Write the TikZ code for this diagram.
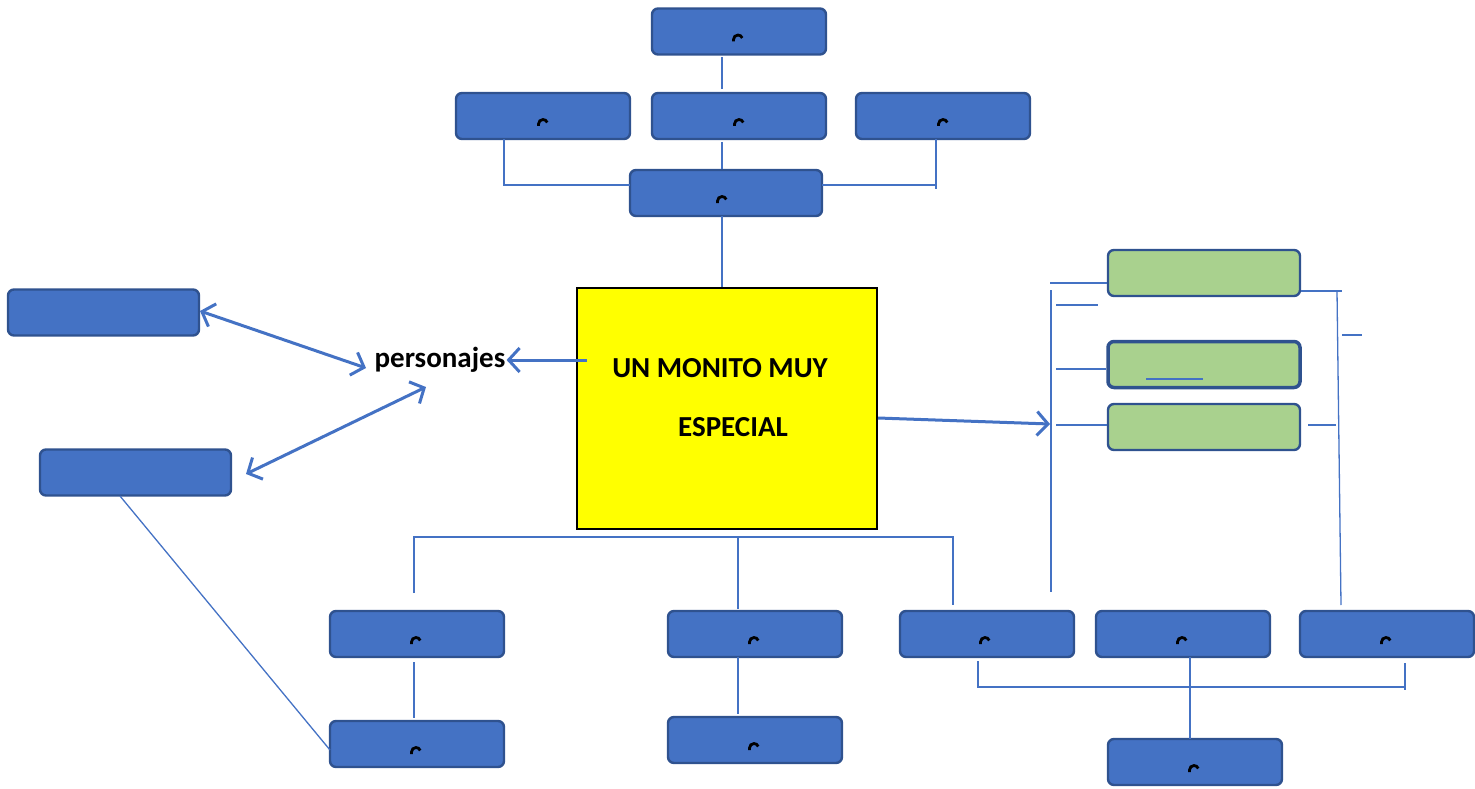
\documentclass[tikz,border=0pt]{standalone}
\usepackage{fontspec}
\setmainfont{Carlito}
\usetikzlibrary{arrows.meta}
\definecolor{bfill}{HTML}{4472C4}
\definecolor{bdraw}{HTML}{2F528F}
\definecolor{gfill}{HTML}{A9D18E}
\definecolor{lcol}{HTML}{4472C4}
\definecolor{yel}{HTML}{FFFF00}
\tikzset{
  bbox/.style={draw=bdraw,fill=bfill,line width=2.4pt,rounded corners=6pt,minimum width=174pt,minimum height=46pt,inner sep=0pt},
  gbox/.style={draw=bdraw,fill=gfill,line width=2.4pt,rounded corners=6pt,minimum width=192pt,minimum height=46pt,inner sep=0pt},
  conn/.style={draw=lcol,line width=1.3pt},
  arr/.style={draw=lcol,line width=3pt,-{Straight Barb[length=11pt,width=24pt,line width=3pt]}},
  darr/.style={draw=lcol,line width=3pt,{Straight Barb[length=11pt,width=24pt,line width=3pt]}-{Straight Barb[length=11pt,width=24pt,line width=3pt]}},
  gl/.pic={\draw[line width=2.8pt,black] (-4.5,10) -- (-4.5,8) arc(180:340:4.5);},
  big/.style={font=\bfseries\fontsize{29}{34}\selectfont,inner sep=0pt}
}
\begin{document}
\begin{tikzpicture}[x=1pt,y=-1pt]
\useasboundingbox (0,0) rectangle (1475,789);
% top
\node[bbox] (T0) at (739,31.5) {};
\node[bbox] (T1) at (543,116) {};
\node[bbox] (T2) at (739,116) {};
\node[bbox] (T3) at (943,116) {};
\node[bbox,minimum width=192pt] (T4) at (726,193) {};
% center
\node[draw=black,fill=yel,line width=2.5pt,minimum width=300pt,minimum height=241pt,inner sep=0pt] (C) at (727,408.5) {};
\node[big] (t1) at (720,368) {UN MONITO MUY};
\node[big] (t2) at (733,427) {ESPECIAL};
\node[big] (P) at (440,360) {personajes};
% left
\node[bbox,minimum width=191pt] (L1) at (103.5,312.5) {};
\node[bbox,minimum width=191pt] (L2) at (135.5,472.5) {};
% bottom
\node[bbox] (B1) at (417,634) {};
\node[bbox] (B2) at (417,744) {};
\node[bbox] (B3) at (755,634) {};
\node[bbox] (B4) at (755,740) {};
\node[bbox] (B5) at (987,634) {};
\node[bbox] (B6) at (1183,634) {};
\node[bbox] (B7) at (1387,634) {};
\node[bbox] (B8) at (1195,762) {};
% green
\node[gbox] (G1) at (1204,273) {};
\node[gbox,line width=3.5pt] (G2) at (1204,364.5) {};
\node[gbox] (G3) at (1204,427) {};
% glyphs
\foreach \n/\dx in {T0/-1,T1/0,T2/0,T3/0,T4/-4,B1/-1,B2/-1,B3/-1,B4/-1,B5/-2,B6/-1,B7/-1,B8/-1}
  \pic at ([xshift=\dx pt]\n.center) {gl};
% coordinates
\coordinate (a1) at (722,57); \coordinate (a2) at (722,89);
\coordinate (a3) at (722,142); \coordinate (a4) at (722,169);
\coordinate (a5) at (722,216); \coordinate (a6) at (722,287);
\coordinate (l1) at (504,139); \coordinate (l2) at (504,185); \coordinate (l3) at (630,185);
\coordinate (r1) at (936,139); \coordinate (r2) at (936,189); \coordinate (r3) at (822,185); \coordinate (r4) at (936,185);
\draw[conn] (a1) -- (a2);
\draw[conn] (a3) -- (a4);
\draw[conn] (a5) -- (a6);
\draw[conn] (l1) -- (l2) -- (l3);
\draw[conn] (r1) -- (r2);
\draw[conn] (r3) -- (r4);
% personajes arrows
\coordinate (pa) at (587,360);
\draw[arr] (pa) -- ([xshift=1pt]P.east);
\coordinate (d1a) at (200,311); \coordinate (d1b) at (366,368);
\draw[darr] (d1a) -- (d1b);
\coordinate (d2a) at (246,474); \coordinate (d2b) at (426,387);
\draw[darr] (d2a) -- (d2b);
\coordinate (ll1) at (120,496); \coordinate (ll2) at (330,750);
\draw[conn] (ll1) -- (ll2);
% bottom tree
\coordinate (h1) at (414,537); \coordinate (h2) at (738,537); \coordinate (h3) at (953,537);
\coordinate (h1d) at (414,593); \coordinate (h2d) at (738,609); \coordinate (h3d) at (953,605);
\draw[conn] (h1d) -- (h1) -- (h3) -- (h3d);
\draw[conn] (h2) -- (h2d);
\coordinate (v1a) at (414,662); \coordinate (v1b) at (414,718);
\draw[conn] (v1a) -- (v1b);
\coordinate (v2a) at (738,657); \coordinate (v2b) at (738,714);
\draw[conn] (v2a) -- (v2b);
\coordinate (k1) at (978,661); \coordinate (k2) at (978,687); \coordinate (k3) at (1405,687); \coordinate (k4) at (1405,663); \coordinate (k5) at (1405,690);
\draw[conn] (k1) -- (k2) -- (k3);
\draw[conn] (k4) -- (k5);
\coordinate (m1) at (1190,657); \coordinate (m2) at (1190,739);
\draw[conn] (m1) -- (m2);
% right side
\coordinate (ra) at (878,418); \coordinate (rb) at (1050,424);
\draw[arr] (ra) -- (rb);
\coordinate (s1) at (1051,290); \coordinate (s2) at (1051,592);
\draw[conn] (s1) -- (s2);
\coordinate (g1a) at (1050,283);
\draw[conn] (g1a) -- (G1.west |- g1a);
\coordinate (q1) at (1056,305); \coordinate (q2) at (1098,305);
\draw[conn] (q1) -- (q2);
\coordinate (g2a) at (1056,369);
\draw[conn] (g2a) -- (G2.west |- g2a);
\coordinate (g3a) at (1056,425);
\draw[conn] (g3a) -- (G3.west |- g3a);
\coordinate (u1) at (1146,379); \coordinate (u2) at (1203,379);
\draw[conn] (u1) -- (u2);
\coordinate (w1) at (1342,291); \coordinate (w2) at (1337,291); \coordinate (w3) at (1341,605);
\draw[conn] (G1.east |- w1) -- (w1);
\draw[conn] (w2) -- (w3);
\coordinate (x1) at (1342,335); \coordinate (x2) at (1362,335);
\draw[conn] (x1) -- (x2);
\coordinate (y1) at (1308,425); \coordinate (y2) at (1336,425);
\draw[conn] (y1) -- (y2);
\end{tikzpicture}
\end{document}
